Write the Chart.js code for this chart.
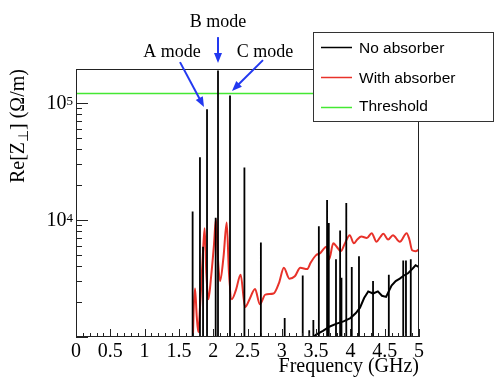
<!DOCTYPE html>
<html><head><meta charset="utf-8">
<script src="https://cdn.jsdelivr.net/npm/chart.js@4"></script>
<style>html,body{margin:0;padding:0;background:#fff}canvas{display:block}</style>
</head><body>
<canvas id="c" width="494" height="380"></canvas>
<script>
// ---- data ----
const xTickValues = [0,0.5,1,1.5,2,2.5,3,3.5,4,4.5,5];
const xTickLabels = ['0','0.5','1','1.5','2','2.5','3','3.5','4','4.5','5'];
const yMajorTicks = [1e4, 1e5];
const yTickExponents = ['4','5'];

// No absorber: narrow resonance peaks (GHz, Ω/m)
const spikeFreq = [1.700,1.807,1.852,1.910,2.036,2.070,2.245,2.455,2.695,3.042,3.305,3.400,3.460,3.540,3.660,3.685,3.790,3.850,3.870,3.940,4.020,4.125,4.330,4.560,4.770,4.810,4.880];
const spikeVal  = [11800,34300,5900,88000,10400,188000,115000,28000,6400,1450,3350,1140,1400,8800,14800,9400,4600,8100,3200,13900,3950,4900,3000,3400,4500,4500,4600];
// No absorber: broadband floor at high frequency
const baseFreq = [3.42,3.50,3.60,3.70,3.80,3.90,4.00,4.08,4.14,4.20,4.26,4.33,4.40,4.46,4.52,4.60,4.66,4.72,4.78,4.84,4.90,4.95,5.00];
const baseVal  = [950,1050,1130,1230,1300,1360,1450,1600,1780,2150,2450,2350,2450,2250,2200,2750,3000,3150,3350,3500,3800,4100,3950];
// With absorber
const redFreq = [1.70,1.715,1.735,1.76,1.783,1.81,1.845,1.875,1.90,1.93,1.97,2.01,2.04,2.07,2.10,2.15,2.197,2.23,2.27,2.33,2.40,2.465,2.53,2.61,2.68,2.76,2.88,2.96,3.03,3.11,3.19,3.27,3.37,3.42,3.50,3.56,3.65,3.69,3.75,3.80,3.86,3.92,3.99,4.05,4.10,4.16,4.24,4.31,4.38,4.44,4.48,4.55,4.62,4.72,4.82,4.86,4.90,4.95,5.00];
const redVal  = [800,1700,2600,1500,1100,1900,4500,8500,3500,2100,3300,6000,10100,4500,3000,4800,9500,3500,2100,2500,3400,1800,2100,2570,1900,2300,2350,2900,3900,3150,3300,3900,3800,4300,5000,5200,5900,4600,6300,5900,5400,6300,7400,6300,6800,7200,7000,7700,6500,7200,7600,6800,7400,6500,7700,6800,5500,5400,5600];
// Threshold
const thresholdVal = 1.2e5;

const seriesLabels = ['No absorber','With absorber','Threshold'];
const seriesColors = ['#000000','#e8322a','#44e833'];

// annotations: [label, textFreq, textVal, arrowFromFreq, arrowFromVal, arrowToFreq, arrowToVal]
const annotations = [
  ['A mode', 1.400, 2.71e5, 1.516, 2.22e5, 1.866, 9.2e4],
  ['B mode', 2.070, 4.88e5, 2.070, 3.63e5, 2.070, 2.18e5],
  ['C mode', 2.755, 2.71e5, 2.726, 2.31e5, 2.274, 1.26e5]
];

// ---- build datasets ----
const FLOOR = 100;
const spikePts = [];
spikeFreq.forEach((f,i)=>{ spikePts.push({x:f,y:FLOOR},{x:f,y:spikeVal[i]},{x:f,y:FLOOR}); });
const basePts = baseFreq.map((f,i)=>({x:f,y:baseVal[i]}));
const redPts = redFreq.map((f,i)=>({x:f,y:redVal[i]}));
const thrPts = [{x:0,y:thresholdVal},{x:5,y:thresholdVal}];

const SERIF = "'Liberation Serif', 'Times New Roman', serif";
const SANS = "'Liberation Sans', Arial, sans-serif";

const decor = {
  id:'decor',
  afterDatasetsDraw(chart){
    const {ctx, chartArea:a, scales:{x,y}} = chart;
    ctx.save();
    // frame
    ctx.strokeStyle = '#222'; ctx.lineWidth = 1;
    ctx.strokeRect(Math.round(a.left)+0.5, Math.round(a.top)+0.5, Math.round(a.right-a.left)-1, Math.round(a.bottom-a.top)-1);
    // x ticks (inside)
    ctx.beginPath();
    for (let k=0;k<=50;k++){
      const v = k/10; const px = Math.round(x.getPixelForValue(v))+0.5;
      const len = (k%5===0)?8:4;
      ctx.moveTo(px, a.bottom); ctx.lineTo(px, a.bottom-len);
    }
    // y ticks (inside)
    for (let d=3; d<=5; d++){
      for (let m=1;m<=9;m++){
        const v = m*Math.pow(10,d);
        if (v < y.min || v > y.max) continue;
        const py = Math.round(y.getPixelForValue(v))+0.5;
        const len = (m===1)?12:6;
        ctx.moveTo(a.left, py); ctx.lineTo(a.left+len, py);
      }
    }
    ctx.stroke();
    // y tick labels 10^n
    ctx.fillStyle = '#000';
    yMajorTicks.forEach((v,i)=>{
      const py = y.getPixelForValue(v);
      ctx.font = '13px '+SERIF; ctx.textAlign='right'; ctx.textBaseline='alphabetic';
      const ew = ctx.measureText(yTickExponents[i]).width;
      ctx.fillText(yTickExponents[i], 73, py+2);
      ctx.font = '20px '+SERIF; ctx.textBaseline='middle';
      ctx.fillText('10', 73-ew, py+1);
    });
    // y title (rotated) Re[Z⊥] (Ω/m)
    ctx.save();
    ctx.translate(19, a.top);
    ctx.rotate(-Math.PI/2);
    ctx.textBaseline='middle'; ctx.textAlign='left';
    const parts = [['Re[Z','20px',0],['\u22A5','14px',5],['] (\u03A9/m)','20px',0]];
    let tot=0; parts.forEach(p=>{ctx.font=p[1]+' '+SERIF; tot+=ctx.measureText(p[0]).width;});
    let cx = -tot;
    parts.forEach(p=>{ctx.font=p[1]+' '+SERIF; ctx.fillText(p[0], cx, p[2]); cx+=ctx.measureText(p[0]).width;});
    ctx.restore();
    // legend
    const L = {x:313.5, y:32.5, w:180, h:89};
    ctx.fillStyle='#fff'; ctx.fillRect(L.x, L.y, L.w, L.h);
    ctx.strokeStyle='#333'; ctx.lineWidth=1; ctx.strokeRect(L.x, L.y, L.w, L.h);
    const rowsLine=[47.5,77.5,107.5], rowsText=[49,78.5,107];
    chart.data.datasets.filter(d=>!d.hiddenLegend).forEach((d,i)=>{
      ctx.strokeStyle=d.borderColor; ctx.lineWidth=1.5;
      ctx.beginPath(); ctx.moveTo(321, rowsLine[i]); ctx.lineTo(352, rowsLine[i]); ctx.stroke();
      ctx.fillStyle='#000'; ctx.font='15.5px '+SANS; ctx.textAlign='left'; ctx.textBaseline='middle';
      ctx.fillText(d.label, 359, rowsText[i]);
    });
    // annotations
    annotations.forEach(an=>{
      const tx=x.getPixelForValue(an[1]), ty=y.getPixelForValue(an[2]);
      ctx.fillStyle='#000'; ctx.font='18px '+SERIF; ctx.textAlign='center'; ctx.textBaseline='middle';
      ctx.fillText(an[0], tx, ty);
      const x1=x.getPixelForValue(an[3]), y1=y.getPixelForValue(an[4]);
      const x2=x.getPixelForValue(an[5]), y2=y.getPixelForValue(an[6]);
      const ang=Math.atan2(y2-y1,x2-x1), hl=10, hw=4;
      ctx.strokeStyle='#2238f0'; ctx.fillStyle='#2238f0'; ctx.lineWidth=2;
      ctx.beginPath(); ctx.moveTo(x1,y1); ctx.lineTo(x2-hl*0.8*Math.cos(ang), y2-hl*0.8*Math.sin(ang)); ctx.stroke();
      ctx.beginPath();
      ctx.moveTo(x2,y2);
      ctx.lineTo(x2-hl*Math.cos(ang)+hw*Math.sin(ang), y2-hl*Math.sin(ang)-hw*Math.cos(ang));
      ctx.lineTo(x2-hl*Math.cos(ang)-hw*Math.sin(ang), y2-hl*Math.sin(ang)+hw*Math.cos(ang));
      ctx.closePath(); ctx.fill();
    });
    ctx.restore();
  }
};

new Chart(document.getElementById('c'), {
  type:'line',
  data:{datasets:[
    {label:seriesLabels[0], data:spikePts, borderColor:seriesColors[0], borderWidth:1.8, pointRadius:0, tension:0, order:1},
    {label:seriesLabels[1], data:redPts, borderColor:seriesColors[1], borderWidth:2, pointRadius:0, cubicInterpolationMode:'monotone', order:2},
    {label:seriesLabels[2], data:thrPts, borderColor:seriesColors[2], borderWidth:1.5, pointRadius:0, order:3},
    {label:seriesLabels[0], data:basePts, borderColor:seriesColors[0], borderWidth:2, pointRadius:0, tension:0, order:0, hiddenLegend:true}
  ]},
  options:{
    responsive:false, animation:false, devicePixelRatio:1,
    layout:{padding:{top:69,right:75,left:0,bottom:0}},
    plugins:{legend:{display:false}, tooltip:{enabled:false}},
    scales:{
      x:{type:'linear', min:0, max:5,
        afterBuildTicks:s=>{s.ticks = xTickValues.map(v=>({value:v}));},
        afterFit:s=>{s.height=43;},
        grid:{display:false}, border:{display:false},
        ticks:{autoSkip:false, maxRotation:0, padding:-5, color:'#000', font:{family:SERIF,size:20},
          callback:(v)=>{const i=xTickValues.indexOf(v); return i>=0?xTickLabels[i]:'';}},
        title:{display:true, text:'Frequency (GHz)', align:'end', color:'#000', font:{family:SERIF,size:20}, padding:{top:0,bottom:1}}
      },
      y:{type:'logarithmic', min:1000, max:1.94e5,
        afterBuildTicks:s=>{s.ticks = yMajorTicks.map(v=>({value:v}));},
        afterFit:s=>{s.width=76;},
        grid:{display:false}, border:{display:false},
        ticks:{display:false}
      }
    }
  },
  plugins:[decor]
});
</script>
</body></html>
